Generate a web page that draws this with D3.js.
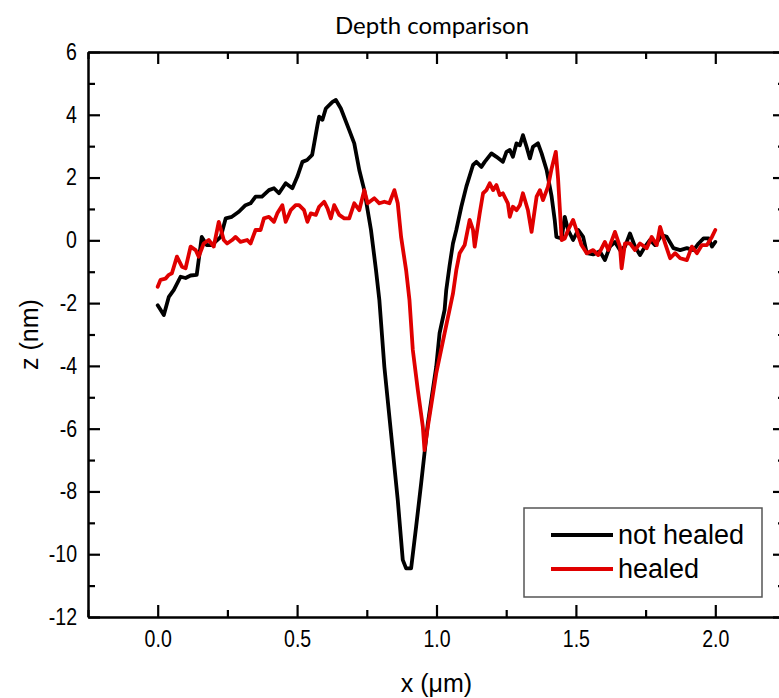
<!DOCTYPE html>
<html>
<head>
<meta charset="utf-8">
<script src="https://cdn.jsdelivr.net/npm/d3@7"></script>
<style>
  body { margin: 0; background: #fff; }
  svg { display: block; overflow: hidden; }
</style>
</head>
<body>
<div id="chart"></div>
<script>
// x positions (µm) and heights (nm) for each profile
const xNotHealed = [0.000, 0.022, 0.040, 0.058, 0.082, 0.100, 0.118, 0.140, 0.158, 0.176, 0.194, 0.226, 0.244, 0.266, 0.291, 0.315, 0.333, 0.351, 0.374, 0.399, 0.417, 0.435, 0.459, 0.483, 0.501, 0.519, 0.536, 0.554, 0.573, 0.579, 0.591, 0.603, 0.627, 0.639, 0.657, 0.687, 0.705, 0.723, 0.741, 0.753, 0.765, 0.783, 0.795, 0.813, 0.837, 0.861, 0.879, 0.891, 0.909, 0.927, 0.945, 0.957, 0.969, 0.999, 1.011, 1.029, 1.035, 1.047, 1.059, 1.071, 1.089, 1.107, 1.131, 1.143, 1.161, 1.173, 1.197, 1.215, 1.238, 1.251, 1.263, 1.274, 1.287, 1.299, 1.310, 1.323, 1.335, 1.346, 1.364, 1.377, 1.395, 1.413, 1.424, 1.430, 1.449, 1.460, 1.472, 1.490, 1.508, 1.526, 1.539, 1.562, 1.586, 1.604, 1.622, 1.640, 1.658, 1.676, 1.694, 1.712, 1.730, 1.748, 1.766, 1.784, 1.808, 1.826, 1.850, 1.874, 1.898, 1.922, 1.940, 1.958, 1.976, 1.988, 2.000];
const zNotHealed = [-2.07, -2.38, -1.80, -1.58, -1.16, -1.20, -1.12, -1.10, 0.11, -0.15, -0.15, 0.11, 0.70, 0.75, 0.91, 1.12, 1.18, 1.39, 1.39, 1.60, 1.66, 1.50, 1.82, 1.66, 2.03, 2.50, 2.56, 2.72, 3.67, 3.94, 3.84, 4.20, 4.41, 4.47, 4.20, 3.51, 3.09, 2.24, 1.60, 0.96, 0.33, -0.95, -1.90, -4.03, -6.15, -8.27, -10.18, -10.45, -10.45, -9.12, -7.74, -6.78, -5.83, -4.03, -2.96, -2.22, -1.58, -0.80, -0.10, 0.33, 1.07, 1.71, 2.40, 2.50, 2.34, 2.50, 2.77, 2.66, 2.50, 2.82, 2.88, 2.66, 3.09, 3.03, 3.35, 2.98, 2.61, 2.98, 3.09, 2.77, 2.24, 1.39, 0.65, 0.11, 0.06, 0.75, 0.33, 0.01, 0.33, 0.11, -0.41, -0.45, -0.35, -0.63, -0.20, -0.05, -0.31, -0.20, 0.22, -0.20, -0.47, -0.20, 0.01, -0.15, 0.17, 0.11, -0.25, -0.31, -0.25, -0.31, -0.10, 0.06, 0.06, -0.20, -0.05];

const xHealed = [0.000, 0.010, 0.028, 0.040, 0.051, 0.069, 0.087, 0.100, 0.118, 0.136, 0.147, 0.165, 0.183, 0.201, 0.219, 0.237, 0.249, 0.267, 0.279, 0.297, 0.321, 0.333, 0.351, 0.369, 0.381, 0.399, 0.417, 0.429, 0.447, 0.459, 0.477, 0.495, 0.507, 0.525, 0.537, 0.549, 0.567, 0.579, 0.597, 0.609, 0.621, 0.633, 0.651, 0.669, 0.687, 0.705, 0.723, 0.741, 0.753, 0.777, 0.795, 0.813, 0.831, 0.849, 0.861, 0.873, 0.891, 0.903, 0.915, 0.933, 0.951, 0.957, 0.969, 0.999, 1.029, 1.059, 1.071, 1.083, 1.101, 1.119, 1.131, 1.137, 1.155, 1.167, 1.179, 1.191, 1.203, 1.215, 1.227, 1.238, 1.256, 1.263, 1.274, 1.287, 1.299, 1.310, 1.328, 1.341, 1.359, 1.371, 1.382, 1.400, 1.413, 1.428, 1.436, 1.449, 1.460, 1.472, 1.490, 1.508, 1.520, 1.539, 1.562, 1.580, 1.604, 1.616, 1.640, 1.658, 1.664, 1.676, 1.694, 1.712, 1.730, 1.754, 1.772, 1.790, 1.802, 1.820, 1.838, 1.856, 1.874, 1.898, 1.916, 1.934, 1.952, 1.970, 1.988, 2.000];
const zHealed = [-1.48, -1.26, -1.22, -1.10, -1.05, -0.52, -0.84, -0.89, -0.20, -0.31, -0.52, -0.10, 0.01, -0.20, 0.59, 0.01, -0.10, 0.01, 0.11, -0.05, 0.01, -0.10, 0.33, 0.33, 0.70, 0.75, 0.59, 0.86, 1.12, 0.59, 0.96, 1.12, 1.12, 0.96, 0.59, 0.86, 0.81, 1.07, 1.23, 1.02, 0.70, 1.12, 0.81, 0.70, 0.70, 1.18, 0.96, 1.60, 1.18, 1.34, 1.18, 1.23, 1.18, 1.60, 1.18, 0.11, -0.95, -1.90, -3.49, -4.77, -5.94, -6.68, -5.94, -4.24, -2.96, -1.70, -0.95, -0.41, -0.15, 0.65, 0.33, -0.20, 0.86, 1.50, 1.60, 1.82, 1.60, 1.76, 1.44, 1.50, 1.18, 0.75, 1.07, 0.96, 1.12, 1.50, 0.96, 0.27, 1.39, 1.60, 1.28, 1.71, 2.29, 2.82, 1.97, 0.01, 0.06, 0.33, 0.65, 0.17, -0.15, -0.41, -0.31, -0.47, -0.05, -0.31, 0.27, -0.20, -0.89, -0.10, -0.10, -0.31, -0.10, -0.25, 0.11, -0.15, 0.43, -0.10, -0.57, -0.41, -0.57, -0.63, -0.20, -0.41, -0.15, -0.15, 0.11, 0.33];

const seriesNames = ["not healed", "healed"];
const seriesColors = ["#000000", "#e00000"];

const xMajorTicks = [0, 0.5, 1.0, 1.5, 2.0];
const xMinorTicks = [-0.25, 0.25, 0.75, 1.25, 1.75, 2.25];
const yMajorTicks = [-12, -10, -8, -6, -4, -2, 0, 2, 4, 6];
const yMinorTicks = [-11, -9, -7, -5, -3, -1, 1, 3, 5];

function draw() {
  const W = 779, H = 698;
  const margin = {top: 52, right: -6, bottom: 81, left: 88};
  const width = W - margin.left - margin.right;
  const height = H - margin.top - margin.bottom;

  const svg = d3.select("#chart").append("svg")
    .attr("width", W)
    .attr("height", H);

  const chart = svg.append("g")
    .attr("transform", `translate(${margin.left},${margin.top})`);

  const xScale = d3.scaleLinear().domain([-0.25, 2.25]).range([0, width]);
  const yScale = d3.scaleLinear().domain([-12, 6]).range([height, 0]);

  const line = d3.line()
    .x(d => xScale(d[0]))
    .y(d => yScale(d[1]));

  const series = [
    d3.zip(xNotHealed, zNotHealed),
    d3.zip(xHealed, zHealed)
  ];

  // healed drawn last so red sits on top
  chart.append("g")
    .selectAll("path")
    .data(series)
    .join("path")
    .attr("fill", "none")
    .attr("stroke", (d, i) => seriesColors[i])
    .attr("stroke-width", 3.8)
    .attr("stroke-linejoin", "round")
    .attr("stroke-linecap", "round")
    .attr("d", line);

  // inward-facing major + minor ticks, plain hyphen for negatives
  function addAxis(axisFn, scale, major, minor, transform, fmt, pad) {
    chart.append("g")
      .attr("transform", transform)
      .call(axisFn(scale).tickValues(minor).tickSize(-7).tickFormat(""))
      .call(g => g.select(".domain").remove())
      .call(g => g.selectAll("line").attr("stroke-width", 2.2));
    const g = chart.append("g")
      .attr("transform", transform)
      .call(axisFn(scale).tickValues(major).tickSize(-12).tickSizeOuter(0).tickPadding(pad).tickFormat(fmt))
      .attr("font-family", "'Liberation Sans', Arial, sans-serif")
      .attr("font-size", 23);
    g.select(".domain").attr("stroke-width", 2.5);
    g.selectAll("line").attr("stroke-width", 2.2);
    // the original labels are a narrow face: squeeze them a little
    g.selectAll(".tick text").each(function() {
      const t = d3.select(this);
      const tx = +t.attr("x") || 0, ty = +t.attr("y") || 0;
      t.attr("x", 0).attr("y", 0)
        .attr("transform", `translate(${tx},${ty}) scale(0.85,1)`);
    });
    return g;
  }

  addAxis(d3.axisBottom, xScale, xMajorTicks, xMinorTicks, `translate(0,${height})`, d => d.toFixed(1), 14);
  addAxis(d3.axisTop, xScale, xMajorTicks, xMinorTicks, "translate(0,0)", "", 0);
  addAxis(d3.axisLeft, yScale, yMajorTicks, yMinorTicks, "translate(0,0)", d => String(d), 11);
  addAxis(d3.axisRight, yScale, yMajorTicks, yMinorTicks, `translate(${width},0)`, "", 0);

  // title and axis labels
  svg.append("text")
    .attr("x", 432).attr("y", 34)
    .attr("text-anchor", "middle")
    .attr("font-family", "Lato, 'Open Sans', sans-serif")
    .attr("font-size", 24)
    .text("Depth comparison");

  svg.append("text")
    .attr("x", margin.left + xScale(1.0)).attr("y", 692)
    .attr("text-anchor", "middle")
    .attr("font-family", "'Liberation Sans', Arial, sans-serif")
    .attr("font-size", 25)
    .text("x (\u03bcm)");

  svg.append("text")
    .attr("transform", `translate(38,${margin.top + yScale(-3)}) rotate(-90)`)
    .attr("text-anchor", "middle")
    .attr("font-family", "'Liberation Sans', Arial, sans-serif")
    .attr("font-size", 25)
    .text("z (nm)");

  // legend
  const legend = svg.append("g").attr("transform", "translate(524,508)");
  legend.append("rect")
    .attr("width", 238).attr("height", 89)
    .attr("fill", "#fff")
    .attr("stroke", "#555")
    .attr("stroke-width", 1.5);

  const item = legend.selectAll("g.item")
    .data(seriesNames)
    .join("g")
    .attr("class", "item")
    .attr("transform", (d, i) => `translate(0,${27 + i * 34})`);

  item.append("line")
    .attr("x1", 27).attr("x2", 89)
    .attr("stroke", (d, i) => seriesColors[i])
    .attr("stroke-width", 4);

  item.append("text")
    .attr("x", 94).attr("y", 9)
    .attr("font-family", "'Liberation Sans', Arial, sans-serif")
    .attr("font-size", 27)
    .text(d => d);
}

draw();
</script>
</body>
</html>
